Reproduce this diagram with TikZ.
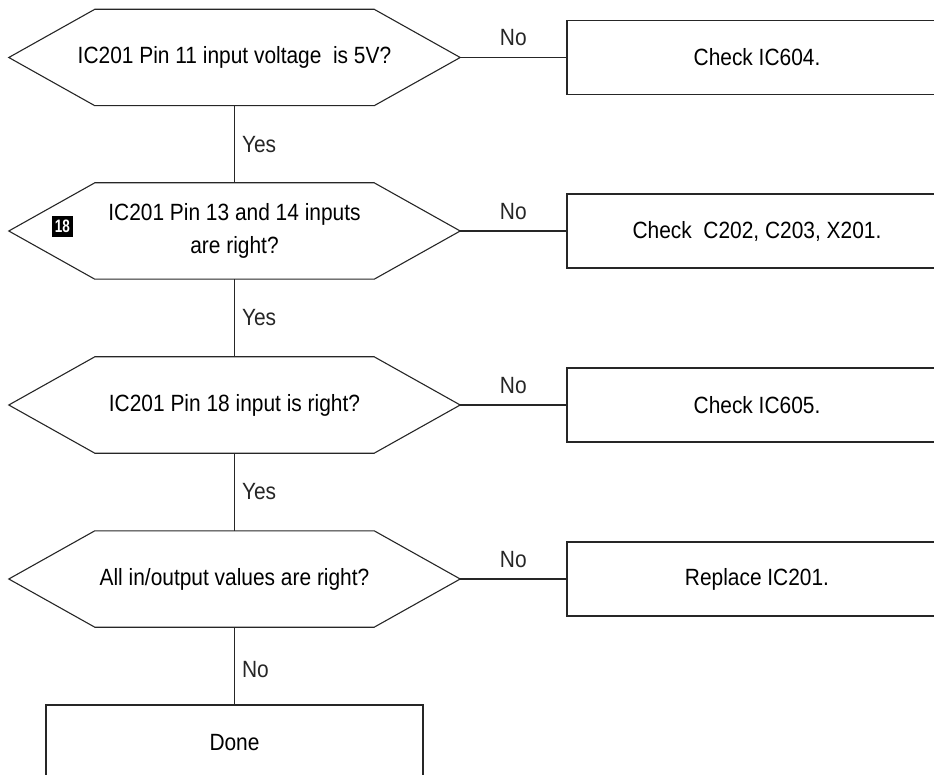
\documentclass[tikz,border=0pt]{standalone}
\usepackage{fontspec}
\setmainfont[FakeStretch=0.89]{Liberation Sans}
\newfontfamily\badgefont[FakeStretch=0.75]{Liberation Sans}
\usetikzlibrary{positioning}

\begin{document}
\begin{tikzpicture}[
  x=1pt, y=-1pt,
  every node/.style={font=\fontsize{23.5}{33}\selectfont},
  question/.style={rectangle, minimum width=451pt, minimum height=96pt, align=center, inner sep=0pt},
  hexline/.style={line width=1.1pt, black!85},
  action/.style={rectangle, draw=black!85, line width=1.1pt, minimum width=380pt, minimum height=74pt, inner sep=0pt},
  link/.style={line width=1.1pt, black!85},
  yeslab/.style={right=5pt, inner sep=2pt},
  nolab/.style={above=9pt, inner sep=2pt},
  badge/.style={fill=black, text=white, minimum size=21pt, inner sep=0pt, font=\badgefont\bfseries\fontsize{18}{18}\selectfont},
]
  \useasboundingbox (0,0) rectangle (934,775);

  % questions, one column
  \node[question] (pin11)   at (234.5,57.5) {IC201 Pin 11 input voltage\ \ is 5V?};
  \node[question] (pin1314) at (234.5,231)  {IC201 Pin 13 and 14 inputs\\are right?};
  \node[question] (pin18)   at (234.5,405)  {IC201 Pin 18 input is right?};
  \node[question] (allio)   at (234.5,579)  {All in/output values are right?};
  \foreach \q in {pin11,pin1314,pin18,allio}
    \draw[hexline] (\q.west) -- ([xshift=86pt]\q.north west) -- ([xshift=-86pt]\q.north east)
      -- (\q.east) -- ([xshift=-86pt]\q.south east) -- ([xshift=86pt]\q.south west) -- cycle;
  \node[badge] (step18) at (62.5,226.5) {18};

  % actions on the right
  \node[action] (ic604) at (757,57.5) {Check IC604.};
  \node[action] (xtal)  at (757,231)  {Check\ \ C202, C203, X201.};
  \node[action] (ic605) at (757,405)  {Check IC605.};
  \node[action] (repl)  at (757,579)  {Replace IC201.};
  \node[action, minimum width=377pt, minimum height=76pt] (done) at (234.5,743) {Done};

  % connectors
  \draw[link] (pin11.south) -- node[yeslab] {Yes} (pin1314.north);
  \draw[link] (pin1314.south) -- node[yeslab] {Yes} (pin18.north);
  \draw[link] (pin18.south) -- node[yeslab] {Yes} (allio.north);
  \draw[link] (allio.south) -- node[yeslab, pos=0.55] {No} (done.north);
  \foreach \q/\a in {pin11/ic604,pin1314/xtal,pin18/ic605,allio/repl}
    \draw[link] (\q.east) -- node[nolab] {No} (\a.west);
\end{tikzpicture}
\end{document}
